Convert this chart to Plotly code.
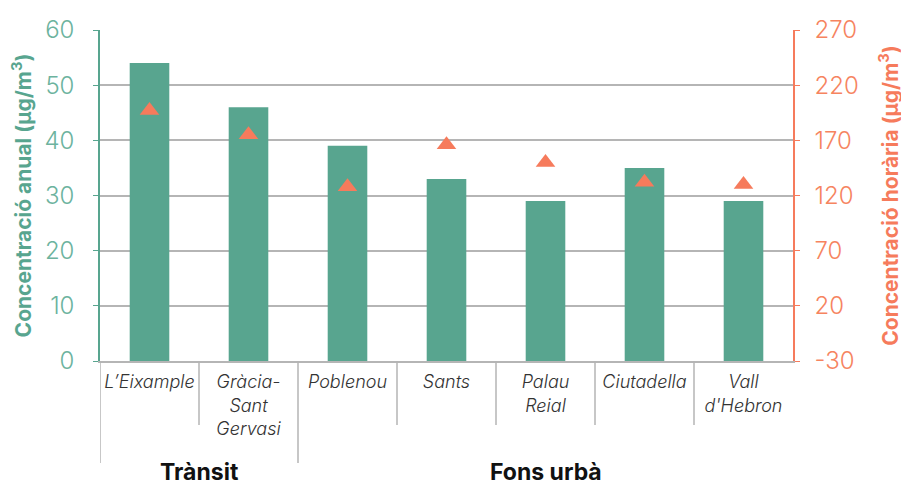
import plotly.graph_objects as go

categories = ["L’Eixample", "Gràcia-<br>Sant<br>Gervasi", "Poblenou", "Sants",
              "Palau<br>Reial", "Ciutadella", "Vall<br>d'Hebron"]
annual = [54, 46, 39, 33, 29, 35, 29]
hourly = [197, 175, 128, 166, 150, 132, 130]
groups = ["Trànsit", "Fons urbà"]
group_sizes = [2, 5]
right_tickvals = [-30, 20, 70, 120, 170, 220, 270]
right_ticktext = ["-30", "20", "70", "120", "170", "220", "270"]

GREEN = "#58a58f"
ORANGE = "#f67b5c"
GRID = "#b5b5b5"
FONT = "Inter"

fig = go.Figure()
fig.add_trace(go.Bar(x=categories, y=annual, marker=dict(color=GREEN, line=dict(width=0)),
                     width=0.4, yaxis="y", showlegend=False))
fig.add_trace(go.Scatter(x=categories, y=hourly, mode="markers", yaxis="y2",
                         marker=dict(symbol="triangle-up", size=17, color=ORANGE),
                         showlegend=False))

shapes = []
n = len(categories)
long_positions = [0]
acc = 0
for s in group_sizes[:-1]:
    acc += s
    long_positions.append(acc)
for i in range(n):
    pos = i - 0.5
    y1 = -0.308 if i in long_positions else -0.193
    shapes.append(dict(type="line", xref="x", yref="paper", x0=pos, x1=pos, y0=0, y1=y1,
                       line=dict(color=GRID, width=1.5)))

annotations = []
start = 0
for g, s in zip(groups, group_sizes):
    center = start + (s - 1) / 2
    annotations.append(dict(text=g, x=center, xref="x", y=-0.336, yref="paper",
                            showarrow=False, yanchor="middle",
                            font=dict(family=FONT, size=23, color="#111111", weight="bold")))
    start += s

fig.update_layout(
    width=901, height=478,
    margin=dict(l=92, r=116, t=22, b=125),
    plot_bgcolor="white", paper_bgcolor="white",
    shapes=shapes, annotations=annotations,
    xaxis=dict(type="category", showgrid=False, showline=True, linecolor=GRID, linewidth=1.5,
               ticks="outside", ticklen=0, ticklabelstandoff=4, automargin=False,
               tickfont=dict(family=FONT, size=18, color="#333333", style="italic", weight=300),
               range=[-0.5, n - 0.5]),
    yaxis=dict(range=[0, 60], dtick=10, showgrid=True, gridcolor=GRID, gridwidth=1.5,
               showline=True, linecolor=GREEN, linewidth=1.5, ticks="outside", ticklen=5,
               tickcolor=GREEN, zeroline=False, ticklabelstandoff=14, automargin=False,
               tickfont=dict(family=FONT, size=24, color="#6cb39e", weight=300),
               title=dict(text="Concentració anual (µg/m<sup>3</sup>)", standoff=10,
                          font=dict(family=FONT, size=21, color=GREEN, weight="bold"))),
    yaxis2=dict(range=[-30, 270], tickvals=right_tickvals, ticktext=right_ticktext,
                overlaying="y", side="right",
                showgrid=False, showline=True, linecolor=ORANGE, linewidth=1.5,
                ticks="outside", ticklen=5, tickcolor=ORANGE, zeroline=False,
                ticklabelstandoff=10, automargin=False,
                tickfont=dict(family=FONT, size=24, color="#f6845f", weight=300),
                title=dict(text="Concentració horària (µg/m<sup>3</sup>)", standoff=25,
                           font=dict(family=FONT, size=21, color=ORANGE, weight="bold"))),
)

fig.write_html("out.html")
